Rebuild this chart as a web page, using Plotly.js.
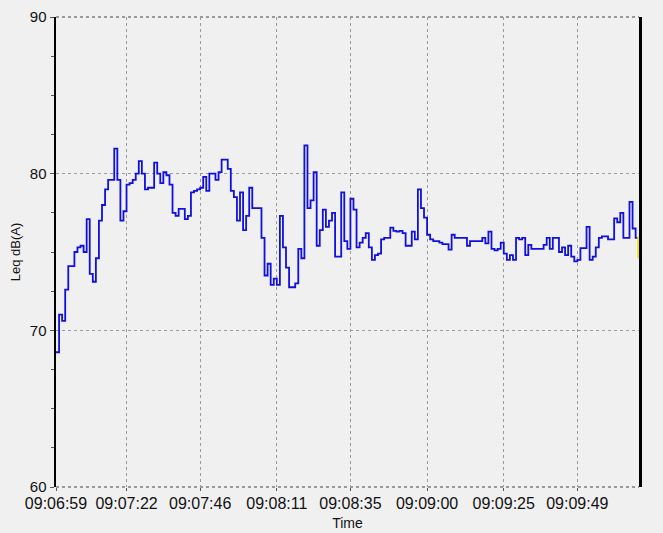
<!DOCTYPE html>
<html>
<head>
<meta charset="utf-8">
<script src="https://cdn.plot.ly/plotly-3.0.1.min.js"></script>
<style>
  html, body { margin: 0; padding: 0; background: #f0f0f0; }
  #chart { width: 663px; height: 533px; }
</style>
</head>
<body>
<div id="chart"></div>
<script>
// Start time of the record and one Leq sample per second
const startTime = '09:06:59';
const leqValues = [
  68.6, 71.0, 70.6, 72.6, 74.1, 74.1, 75.0, 75.3, 75.4, 75.0,
  77.1, 73.6, 73.1, 74.6, 77.0, 78.0, 79.0, 79.6, 79.6, 81.6,
  79.6, 77.0, 77.6, 79.3, 79.4, 79.6, 80.0, 80.8, 80.0, 79.0,
  79.1, 79.1, 80.7, 80.0, 79.4, 80.1, 79.9, 79.3, 77.5, 77.3,
  77.75, 77.75, 77.1, 77.3, 78.8, 78.9, 79.0, 79.1, 79.8, 78.9,
  80.0, 80.0, 79.6, 80.1, 80.9, 80.9, 80.3, 78.9, 78.5, 77.0,
  78.8, 76.4, 77.3, 79.1, 77.8, 77.8, 77.8, 75.9, 73.5, 74.25,
  72.9, 73.3, 72.9, 77.3, 75.3, 74.0, 72.75, 72.75, 73.0, 75.2,
  74.6, 81.8, 77.8, 78.3, 80.1, 75.4, 76.4, 77.7, 76.6, 77.0,
  77.5, 74.7, 74.7, 78.8, 75.7, 75.2, 78.4, 77.7, 75.3, 75.6,
  75.9, 76.2, 75.3, 74.5, 74.8, 74.9, 75.8, 75.9, 75.9, 76.55,
  76.35, 76.3, 76.35, 76.2, 75.4, 75.4, 76.3, 75.8, 79.0, 77.8,
  77.2, 76.1, 75.8, 75.7, 75.7, 75.6, 75.5, 75.5, 75.15, 76.1,
  75.9, 75.9, 75.9, 75.9, 75.4, 75.7, 75.7, 75.7, 75.7, 75.9,
  75.55, 76.3, 75.2, 75.1, 75.2, 75.6, 74.9, 74.5, 74.8, 74.5,
  75.9, 75.8, 75.9, 74.8, 75.45, 75.2, 75.2, 75.2, 75.2, 75.45,
  75.9, 75.2, 75.9, 75.9, 75.0, 75.3, 74.8, 75.4, 74.7, 74.4,
  74.5, 75.25, 75.25, 76.6, 74.5, 74.7, 75.3, 75.9, 76.0, 76.0,
  75.8, 75.8, 77.15, 76.9, 77.5, 75.9, 75.9, 78.2, 76.5, 75.9
];
// Cursor marker (yellow) at the end of the record
const cursorLevels = [74.6, 76.0];
// X tick labels
const tickLabels = ['09:06:59', '09:07:22', '09:07:46', '09:08:11', '09:08:35', '09:09:00', '09:09:25', '09:09:49'];
const yTicks = [60, 70, 80, 90];

function toSec(s) { const p = s.split(':').map(Number); return p[0] * 3600 + p[1] * 60 + p[2]; }
const t0 = toSec(startTime);
const tickVals = tickLabels.map(l => toSec(l) - t0);

const xs = leqValues.map((v, i) => i);
// close the last step so it is drawn for its full second
const xLine = xs.concat([leqValues.length]);
const yLine = leqValues.concat([leqValues[leqValues.length - 1]]);
const endT = leqValues.length;

const traces = [
  {
    x: xLine, y: yLine, type: 'scatter', mode: 'lines',
    line: { shape: 'hv', color: '#1010dc', width: 1.8 },
    hoverinfo: 'skip', showlegend: false
  },
  {
    x: [endT - 0.1, endT - 0.1], y: cursorLevels, type: 'scatter', mode: 'lines',
    line: { color: '#f2e21a', width: 2.5 },
    hoverinfo: 'skip', showlegend: false
  }
];

const gridCol = '#9a9a9a';
const layout = {
  width: 663, height: 533,
  paper_bgcolor: '#f0f0f0', plot_bgcolor: '#f0f0f0',
  margin: { l: 56, r: 24, t: 17, b: 46 },
  font: { family: 'Liberation Sans, Arial, sans-serif', color: '#111', size: 15 },
  showlegend: false,
  xaxis: {
    range: [0, endT + 0.1],
    tickvals: tickVals, ticktext: tickLabels,
    ticks: 'outside', ticklen: 3, tickcolor: '#555',
    ticklabelstandoff: -1,
    showgrid: true, gridcolor: gridCol, griddash: 'dot', gridwidth: 1,
    zeroline: false, showline: false,
    tickfont: { size: 16, color: '#111' },
    title: { text: 'Time', font: { size: 14, color: '#111' }, standoff: 6 }
  },
  yaxis: {
    range: [60, 90],
    tickvals: yTicks,
    ticks: 'outside', ticklen: 4, tickcolor: '#555',
    minor: { dtick: 2.5, ticks: 'outside', ticklen: 3, tickcolor: '#555', showgrid: false },
    showgrid: true, gridcolor: gridCol, griddash: 'dot', gridwidth: 1,
    zeroline: false,
    showline: true, linecolor: '#000', linewidth: 2.5, mirror: true,
    tickfont: { size: 15, color: '#111' },
    title: { text: 'Leq dB(A)', font: { size: 13, color: '#111' }, standoff: 7 }
  },
  shapes: [
    { type: 'line', xref: 'paper', yref: 'paper', x0: 0, x1: 1, y0: 1, y1: 1,
      line: { color: '#444', width: 1, dash: 'dot' }, layer: 'below' },
    { type: 'line', xref: 'paper', yref: 'paper', x0: 0, x1: 1, y0: 0, y1: 0,
      line: { color: '#444', width: 1, dash: 'dot' }, layer: 'below' }
  ]
};

Plotly.newPlot('chart', traces, layout, { displayModeBar: false, staticPlot: true });
</script>
</body>
</html>
